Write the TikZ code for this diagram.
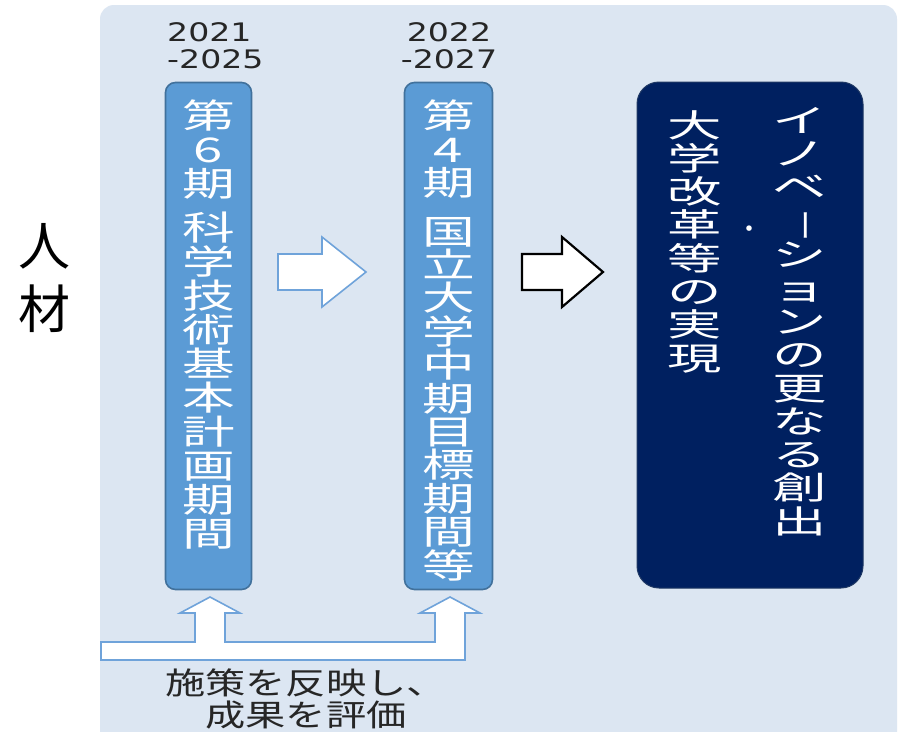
\documentclass[tikz,border=0pt]{standalone}
\usepackage{fontspec}
\usepackage{graphicx}
\newfontfamily\jpbox[FakeStretch=1.55]{Noto Sans CJK JP}
\newfontfamily\jpdark[FakeStretch=1.7]{Noto Sans CJK JP}
\newfontfamily\jpbot[FakeStretch=1.32]{Noto Sans CJK JP}
\newfontfamily\jpplain{Noto Sans CJK JP}
\newfontfamily\yrfont[FakeStretch=1.3]{DejaVu Sans}
\definecolor{panelfill}{HTML}{DCE6F2}
\definecolor{boxfill}{HTML}{5B9BD5}
\definecolor{boxline}{HTML}{41719C}
\definecolor{goalfill}{HTML}{002060}
\definecolor{goalline}{HTML}{1F3864}
\definecolor{arrowline}{HTML}{6FA3DA}
\definecolor{textdark}{HTML}{262626}
\begin{document}
\begin{tikzpicture}[x=1pt,y=-1pt,
  periodbox/.style={draw=boxline, line width=1.6pt, fill=boxfill, rounded corners=10pt, minimum width=86pt, minimum height=507pt, inner sep=0pt},
  goalbox/.style={draw=goalline, line width=1pt, fill=goalfill, rounded corners=22pt, minimum width=226pt, minimum height=506pt, inner sep=0pt},
  boxtext/.style={text=white, align=center, inner sep=0pt},
  goaltext/.style={text=white, align=center, inner sep=0pt, font={\jpdark\fontsize{32}{33.3}\selectfont}},
  yeartext/.style={text=textdark, inner sep=0pt, font={\yrfont\fontsize{25.5}{27}\selectfont}},
  bluearrow/.style={draw=arrowline, line width=1.6pt, fill=white, line join=miter},
  blackarrow/.style={draw=black, line width=2.2pt, fill=white, line join=miter},
  feedback/.style={draw=arrowline, line width=1.6pt, fill=white, line join=miter},
  bottext/.style={text=textdark, inner sep=0pt, align=center, font={\jpbot\fontsize{30.5}{32}\selectfont}}
]
\useasboundingbox (0,0) rectangle (904,731);
\clip (0,0) rectangle (904,731);
\fill[white] (0,0) rectangle (904,731);
\fill[panelfill, rounded corners=14pt] (100,5) rectangle (897,770);

% side label
\node[inner sep=0pt, align=center, font={\jpplain\fontsize{52}{63}\selectfont}] (side) at (44,278) {人\\材};

% year labels
\node[yeartext, align=left, anchor=north west] (y1) at (167,22) {2021\\-2025};
\node[yeartext, align=center, anchor=north] (y2) at (449,22) {2022\\-2027};

% period boxes
\node[periodbox] (p1) at (208.5,336) {};
\node[periodbox, minimum width=88pt] (p2) at (448.5,336) {};
\node[boxtext, anchor=north, font={\jpbox\fontsize{34}{34}\selectfont}] (t1) at (208.5,100)
  {第\\6\\期\\[10pt]科\\学\\技\\術\\基\\本\\計\\画\\期\\間};
\node[boxtext, anchor=north, font={\jpbox\fontsize{34}{33.4}\selectfont}] (t2) at (448.5,100)
  {第\\4\\期\\[15pt]国\\立\\大\\学\\中\\期\\目\\標\\期\\間\\等};

% goal box
\node[goalbox] (goal) at (750,335) {};
\node[goaltext, anchor=north] (g1) at (800,107)
  {イ\\ノ\\ベ\\\rotatebox[origin=c]{-90}{\jpplain ー}\\シ\\ョ\\ン\\の\\更\\な\\る\\創\\出};
\node[text=white, inner sep=0pt, font={\jpplain\fontsize{26}{26}\selectfont}] (gdot) at (749,232) {・};
\node[goaltext, anchor=north] (g2) at (695,110)
  {大\\学\\改\\革\\等\\の\\実\\現};

% block arrows between columns
\draw[bluearrow] (278,254) -- (322,254) -- (322,237) -- (366,272) -- (322,307) -- (322,290) -- (278,290) -- cycle;
\draw[blackarrow] (522,254) -- (562,254) -- (562,237) -- (603,272) -- (562,307) -- (562,290) -- (522,290) -- cycle;

% feedback arrow
\draw[feedback] (101,660) -- (465,660) -- (465,613) -- (480,613) -- (450,597) -- (420,613) -- (435,613)
  -- (435,642) -- (225,642) -- (225,613) -- (240,613) -- (210,597) -- (180,613) -- (195,613)
  -- (195,642) -- (101,642) -- cycle;

% bottom caption
\node[bottext] (cap) at (306,699) {施策を反映し、\\成果を評価};
\end{tikzpicture}
\end{document}
